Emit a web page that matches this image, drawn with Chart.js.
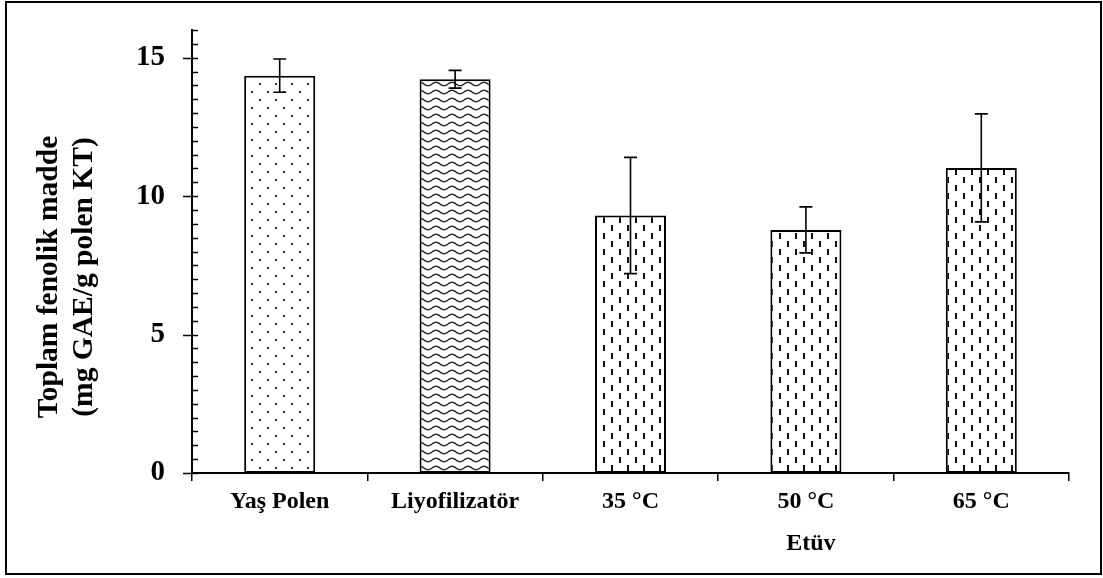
<!DOCTYPE html>
<html>
<head>
<meta charset="utf-8">
<script src="https://cdn.jsdelivr.net/npm/chart.js@4.4.1/dist/chart.umd.min.js"></script>
<style>
  html, body { margin: 0; padding: 0; background: #fff; }
  canvas { display: block; }
</style>
</head>
<body>
<canvas id="c" width="1103" height="578"></canvas>
<script>
// Total phenolic content per drying method (mean ± SD)
const categories = ['Yaş Polen', 'Liyofilizatör', '35 °C', '50 °C', '65 °C'];
const meanValues = [14.35, 14.22, 9.3, 8.78, 11.02];
const sdValues = [0.6, 0.32, 2.1, 0.83, 1.95];
const yTickLabels = [0, 5, 10, 15];
const yTitleLines = ['Toplam fenolik madde', '(mg GAE/g polen KT)'];
const groupLabel = 'Etüv';
const groupLabelIndex = 3;

const SERIF = '"Liberation Serif", "Times New Roman", serif';

// ---- fill patterns ----
function makeTile(w, h, draw) {
  const c = document.createElement('canvas');
  c.width = w; c.height = h;
  const g = c.getContext('2d');
  g.fillStyle = '#fff';
  g.fillRect(0, 0, w, h);
  draw(g);
  return g.createPattern(c, 'repeat');
}

const dotPattern = makeTile(16, 16, g => {
  g.fillStyle = '#333';
  g.fillRect(3, 3, 2, 2);
  g.fillRect(11, 11, 2, 2);
});

const wavePattern = makeTile(16, 8, g => {
  g.strokeStyle = '#1a1a1a';
  g.lineWidth = 1.4;
  g.beginPath();
  for (let x = 0; x <= 16; x += 0.5) {
    const y = 4 - 1.7 * Math.sin((x / 16) * Math.PI * 2);
    if (x === 0) g.moveTo(x, y); else g.lineTo(x, y);
  }
  g.stroke();
});

const dashPattern = makeTile(16, 16, g => {
  g.fillStyle = '#111';
  g.fillRect(3, 1, 2, 6);
  g.fillRect(11, 9, 2, 6);
});

// ---- plugins ----
const pageFrame = {
  id: 'pageFrame',
  beforeDraw(chart) {
    const { ctx } = chart;
    ctx.save();
    ctx.fillStyle = '#fff';
    ctx.fillRect(0, 0, chart.width, chart.height);
    ctx.restore();
  },
  afterDraw(chart) {
    const { ctx } = chart;
    ctx.save();
    ctx.strokeStyle = '#000';
    ctx.lineWidth = 2;
    ctx.strokeRect(6, 2, 1095, 572);
    ctx.restore();
  }
};

const yTickMarks = {
  id: 'yTickMarks',
  afterDraw(chart) {
    const { ctx, scales: { y } } = chart;
    const x0 = chart.chartArea.left;
    ctx.save();
    ctx.strokeStyle = '#000';
    ctx.lineWidth = 1.5;
    y.ticks.forEach(t => {
      const py = Math.round(y.getPixelForValue(t.value)) + 0.5;
      const major = yTickLabels.includes(t.value);
      ctx.beginPath();
      ctx.moveTo(major ? x0 - 9 : x0, py);
      ctx.lineTo(x0 + 6, py);
      ctx.stroke();
    });
    ctx.restore();
  }
};

const errorBars = {
  id: 'errorBars',
  afterDatasetsDraw(chart) {
    const { ctx, scales: { y } } = chart;
    const meta = chart.getDatasetMeta(0);
    ctx.save();
    ctx.strokeStyle = '#000';
    ctx.lineWidth = 1.6;
    meta.data.forEach((bar, i) => {
      const x = bar.x;
      const top = y.getPixelForValue(meanValues[i] + sdValues[i]);
      const bot = y.getPixelForValue(meanValues[i] - sdValues[i]);
      ctx.beginPath();
      ctx.moveTo(x, top); ctx.lineTo(x, bot);
      ctx.moveTo(x - 6.5, top); ctx.lineTo(x + 6.5, top);
      ctx.moveTo(x - 6.5, bot); ctx.lineTo(x + 6.5, bot);
      ctx.stroke();
    });
    ctx.restore();
  }
};

const axisTitles = {
  id: 'axisTitles',
  afterDraw(chart) {
    const { ctx, scales: { x } } = chart;
    ctx.save();
    ctx.fillStyle = '#000';
    ctx.textAlign = 'center';
    ctx.textBaseline = 'middle';
    // rotated y-axis title, two lines
    ctx.font = 'bold 29.5px ' + SERIF;
    const centers = [49, 84];
    yTitleLines.forEach((line, i) => {
      ctx.save();
      ctx.translate(centers[i], 277);
      ctx.rotate(-Math.PI / 2);
      ctx.fillText(line, 0, 0);
      ctx.restore();
    });
    // group label under the oven-dried categories
    ctx.font = 'bold 24px ' + SERIF;
    ctx.fillText(groupLabel, x.getPixelForValue(groupLabelIndex) + 5, 544);
    ctx.restore();
  }
};

new Chart(document.getElementById('c'), {
  type: 'bar',
  data: {
    labels: categories,
    datasets: [{
      data: meanValues,
      backgroundColor: [dotPattern, wavePattern, dashPattern, dashPattern, dashPattern],
      borderColor: '#000',
      borderWidth: 2,
      borderSkipped: false,
      barPercentage: 0.405,
      categoryPercentage: 1
    }]
  },
  options: {
    responsive: false,
    animation: false,
    devicePixelRatio: 1,
    layout: { padding: { top: 30, right: 34, left: 0, bottom: 0 } },
    plugins: { legend: { display: false }, tooltip: { enabled: false } },
    scales: {
      x: {
        grid: { display: true, offset: true, drawOnChartArea: false, drawTicks: true, tickLength: 8, color: '#000', lineWidth: 1.5 },
        border: { display: true, color: '#000', width: 2 },
        ticks: { font: { family: SERIF, size: 24, weight: 'bold' }, color: '#000', padding: 6, maxRotation: 0, autoSkip: false },
        afterFit(s) { s.height = 105; s.paddingLeft = 0; s.paddingRight = 0; }
      },
      y: {
        min: 0,
        max: 16,
        grid: { display: false, drawTicks: false },
        border: { display: true, color: '#000', width: 2 },
        ticks: {
          stepSize: 0.5,
          autoSkip: false,
          padding: 27,
          font: { family: SERIF, size: 29, weight: 'bold' },
          color: '#000',
          callback: v => (yTickLabels.includes(v) ? String(v) : '')
        },
        afterFit(s) { s.width = 192; s.paddingTop = 0; s.paddingBottom = 0; }
      }
    }
  },
  plugins: [pageFrame, errorBars, yTickMarks, axisTitles]
});
</script>
</body>
</html>
